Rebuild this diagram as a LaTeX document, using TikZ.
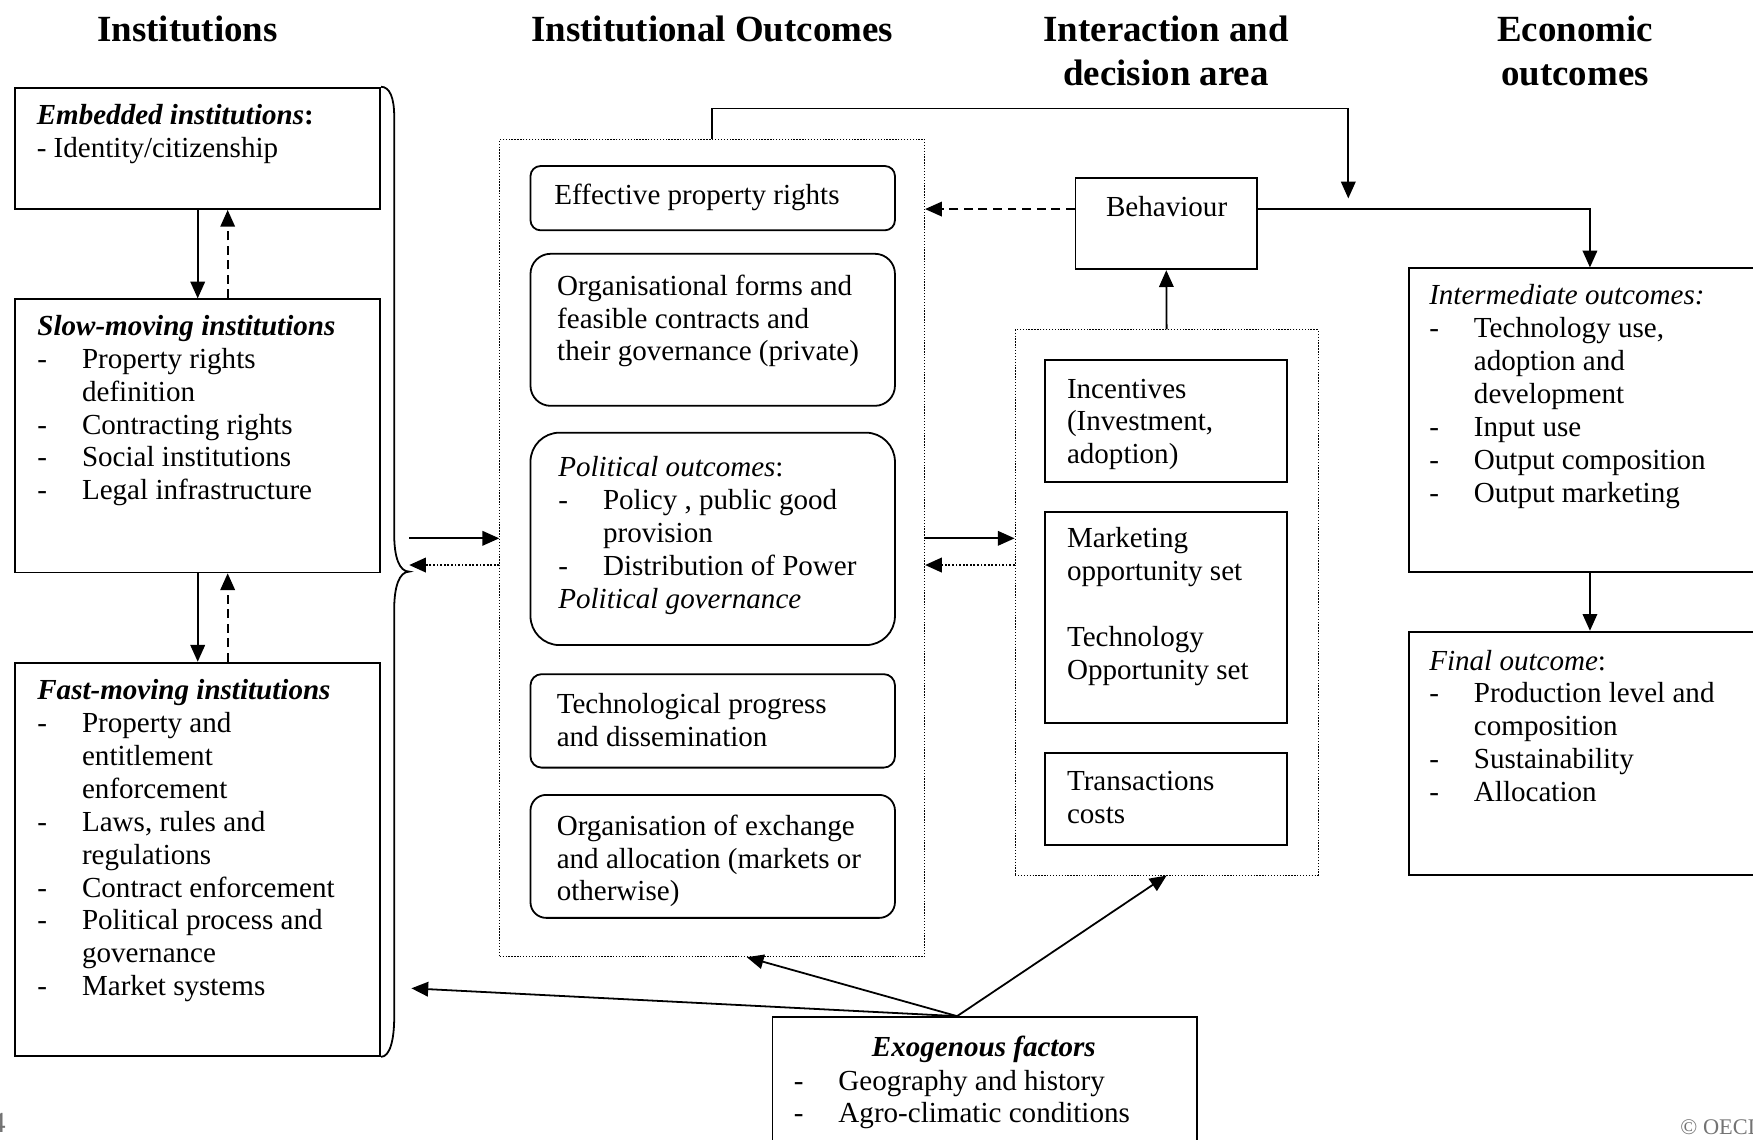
\documentclass[tikz,border=0pt]{standalone}
\usepackage{fontspec}
\setmainfont{Liberation Serif}
\usepackage{array}
\usetikzlibrary{arrows.meta}
\usetikzlibrary{positioning}
\usetikzlibrary{fit}
\newcommand{\bodyfont}{\fontsize{13}{14.7}\selectfont}
\newcommand{\headfont}{\fontsize{16.5}{19.4}\selectfont\bfseries}
\newcommand{\txtlines}[1]{\begin{tabular}[t]{@{}l@{}}#1\end{tabular}}
\newcommand{\headlines}[1]{\begin{tabular}[t]{@{}c@{}}#1\end{tabular}}
\newcommand{\dashlist}[1]{\begin{tabular}[t]{@{}p{20pt}@{}l@{}}#1\end{tabular}}
\newcommand{\listhead}[1]{\multicolumn{2}{@{}l@{}}{#1}}
\tikzset{
  box/.style = {draw, line width=0.8pt, inner sep=0pt},
  rbox/.style = {box, rounded corners=#1},
  frame/.style = {draw, line width=0.45pt, dash pattern=on 0.6pt off 0.7pt, inner sep=0pt},
  txt/.style = {anchor=base west, inner sep=0pt, font=\bodyfont},
  title/.style = {anchor=base, inner sep=0pt, font=\headfont},
  arr/.style = {-{Triangle[length=7.5pt, width=6.5pt]}, line width=0.8pt},
  dasharr/.style = {arr, dash pattern=on 4pt off 2.5pt},
  dotarr/.style = {arr, dash pattern=on 0.8pt off 0.8pt, line width=1pt},
  brace/.style = {line width=0.8pt},
  pagetxt/.style = {inner sep=0pt, text=black!55}
}

\begin{document}
\begin{tikzpicture}[x=0.5pt, y=-0.5pt]
  \useasboundingbox (0,0) rectangle (1568,1019);
  \clip (0,0) rectangle (1568,1019);

  % column titles
  \node[title] (tInst) at (167.7,37.3) {Institutions};
  \node[title] (tOutc) at (637,37.3) {Institutional Outcomes};
  \node[title] (tArea) at (1043,37.3) {\headlines{Interaction and\\decision area}};
  \node[title] (tEcon) at (1408.8,37.3) {\headlines{Economic\\outcomes}};

  % institutions
  \node[box, fit={(13.7,78.4) (340,187)}] (emb) {};
  \node[box, fit={(13.7,267.7) (340,512)}] (slow) {};
  \node[box, fit={(13.7,592.7) (340,944.5)}] (fast) {};
  \node[txt] (embT) at (32.5,111.8) {\txtlines{\textbf{\textit{Embedded institutions}:}\\- Identity/citizenship}};
  \node[txt] (slowT) at (33,300) {\dashlist{\listhead{\textbf{\textit{Slow-moving institutions}}}\\
    - & Property rights\\
      & definition\\
    - & Contracting rights\\
    - & Social institutions\\
    - & Legal infrastructure}};
  \node[txt] (fastT) at (33,626) {\dashlist{\listhead{\textbf{\textit{Fast-moving institutions}}}\\
    - & Property and\\
      & entitlement\\
      & enforcement\\
    - & Laws, rules and\\
      & regulations\\
    - & Contract enforcement\\
    - & Political process and\\
      & governance\\
    - & Market systems}};

  \draw[arr] (emb.south) -- (slow.north);
  \draw[dasharr] ([xshift=13.4pt]slow.north) -- ([xshift=13.4pt]emb.south);
  \draw[arr] (slow.south) -- (fast.north);
  \draw[dasharr] ([xshift=13.4pt]fast.north) -- ([xshift=13.4pt]slow.south);

  % brace
  \coordinate (bracetip) at (366,511.3);
  \draw[brace] (emb.north east) .. controls +(8,0) and +(0,-16) .. (352.6,104) -- (352.6,478)
    .. controls +(0,20) and +(-9,0) .. (bracetip)
    .. controls +(-9,0) and +(0,-20) .. (352.6,545) -- (352.6,910)
    .. controls +(0,20) and +(8,0) .. (fast.south east);

  % institutional outcomes
  \node[frame, fit={(447,124.6) (827,855.7)}] (outc) {};
  \node[rbox=4.5pt, fit={(474.5,148.5) (800.5,206)}] (eff) {};
  \node[rbox=9pt, fit={(474.5,227) (800.5,363)}] (orgf) {};
  \node[rbox=13pt, fit={(474.5,387) (800.5,577)}] (pol) {};
  \node[rbox=5pt, fit={(474.5,603) (800.5,686.6)}] (tech) {};
  \node[rbox=7pt, fit={(474.5,711) (800.5,821)}] (exch) {};
  \node[txt] (effT) at (495.5,183) {Effective property rights};
  \node[txt] (orgfT) at (498,264) {\txtlines{Organisational forms and\\feasible contracts and\\their governance (private)}};
  \node[txt] (polT) at (499,426.4) {\dashlist{\listhead{\textit{Political outcomes}:}\\
    - & Policy , public good\\
      & provision\\
    - & Distribution of Power\\
    \listhead{\textit{Political governance}}}};
  \node[txt] (techT) at (497.6,638) {\txtlines{Technological progress\\and dissemination}};
  \node[txt] (exchT) at (497.6,747) {\txtlines{Organisation of exchange\\and allocation (markets or\\otherwise)}};

  % interaction and decision area
  \node[box, fit={(962,159.5) (1124.4,240.9)}] (beh) {};
  \node[txt, anchor=base] (behT) at (1043.5,193.8) {Behaviour};
  \node[frame, fit={(908,295) (1179,782.7)}] (area) {};
  \node[box, fit={(934.7,322) (1151,430.8)}] (inc) {};
  \node[box, fit={(934.7,457.7) (1151,646.7)}] (mkt) {};
  \node[box, fit={(934.7,673.7) (1151,756)}] (trc) {};
  \node[txt] (incT) at (954,356) {\txtlines{Incentives\\(Investment,\\adoption)}};
  \node[txt] (mktT) at (954,490) {\txtlines{Marketing\\opportunity set\\ \\Technology\\Opportunity set}};
  \node[txt] (trcT) at (954,707) {\txtlines{Transactions\\costs}};

  % economic outcomes
  \node[box, fit={(1260.3,240) (1584,511.3)}] (inter) {};
  \node[box, fit={(1260.3,565) (1584,782.7)}] (final) {};
  \node[txt] (interT) at (1278,272.8) {\dashlist{\listhead{\textit{Intermediate outcomes:}}\\
    - & Technology use,\\
      & adoption and\\
      & development\\
    - & Input use\\
    - & Output composition\\
    - & Output marketing}};
  \node[txt] (finalT) at (1278,599.3) {\dashlist{\listhead{\textit{Final outcome}:}\\
    - & Production level and\\
      & composition\\
    - & Sustainability\\
    - & Allocation}};

  % exogenous factors
  \node[box, fit={(691,909.7) (1070.4,1045)}] (exo) {};
  \node[txt, anchor=base] (exoH) at (880,945) {\textbf{\textit{Exogenous factors}}};
  \node[txt] (exoT) at (709.6,975) {\dashlist{- & Geography and history\\
    - & Agro-climatic conditions}};

  % connectors
  \coordinate (brIn) at (366,481.5);
  \coordinate (brOut) at (366,505.4);
  \draw[arr] (brIn) -- (brIn -| outc.west);
  \draw[dotarr] (brOut -| outc.west) -- (brOut);
  \draw[arr] (brIn -| outc.east) -- (brIn -| area.west);
  \draw[dotarr] (brOut -| area.west) -- (brOut -| outc.east);

  \coordinate (behL) at ([yshift=6.6pt]beh.west);
  \coordinate (behR) at ([yshift=6.6pt]beh.east);
  \draw[dasharr] (behL) -- (behL -| outc.east);
  \draw[arr] (behR) -| (inter.north);
  \draw[arr] (area.north) -- (beh.south);
  \draw[arr] (inter.south) -- (final.north);

  \coordinate (fbTop) at (1206,97);
  \coordinate (fbEnd) at (1206,177.5);
  \draw[arr] (outc.north) |- (fbTop) -- (fbEnd);

  \coordinate (exoSrc) at ([xshift=-12.3pt]exo.north);
  \coordinate (fastIn) at (368,884);
  \draw[arr] (exoSrc) -- (fastIn);
  \draw[arr] (exoSrc) -- ([xshift=15.5pt]outc.south);
  \draw[arr] (exoSrc) -- (area.south);

  % page marks
  \node[pagetxt, anchor=base east, font=\fontsize{13}{15}\selectfont] (pgNum) at (5.5,1013.4) {4};
  \node[pagetxt, anchor=base west, font=\fontsize{10}{12}\selectfont] (copyR) at (1502.7,1015) {© OECD};
\end{tikzpicture}
\end{document}
